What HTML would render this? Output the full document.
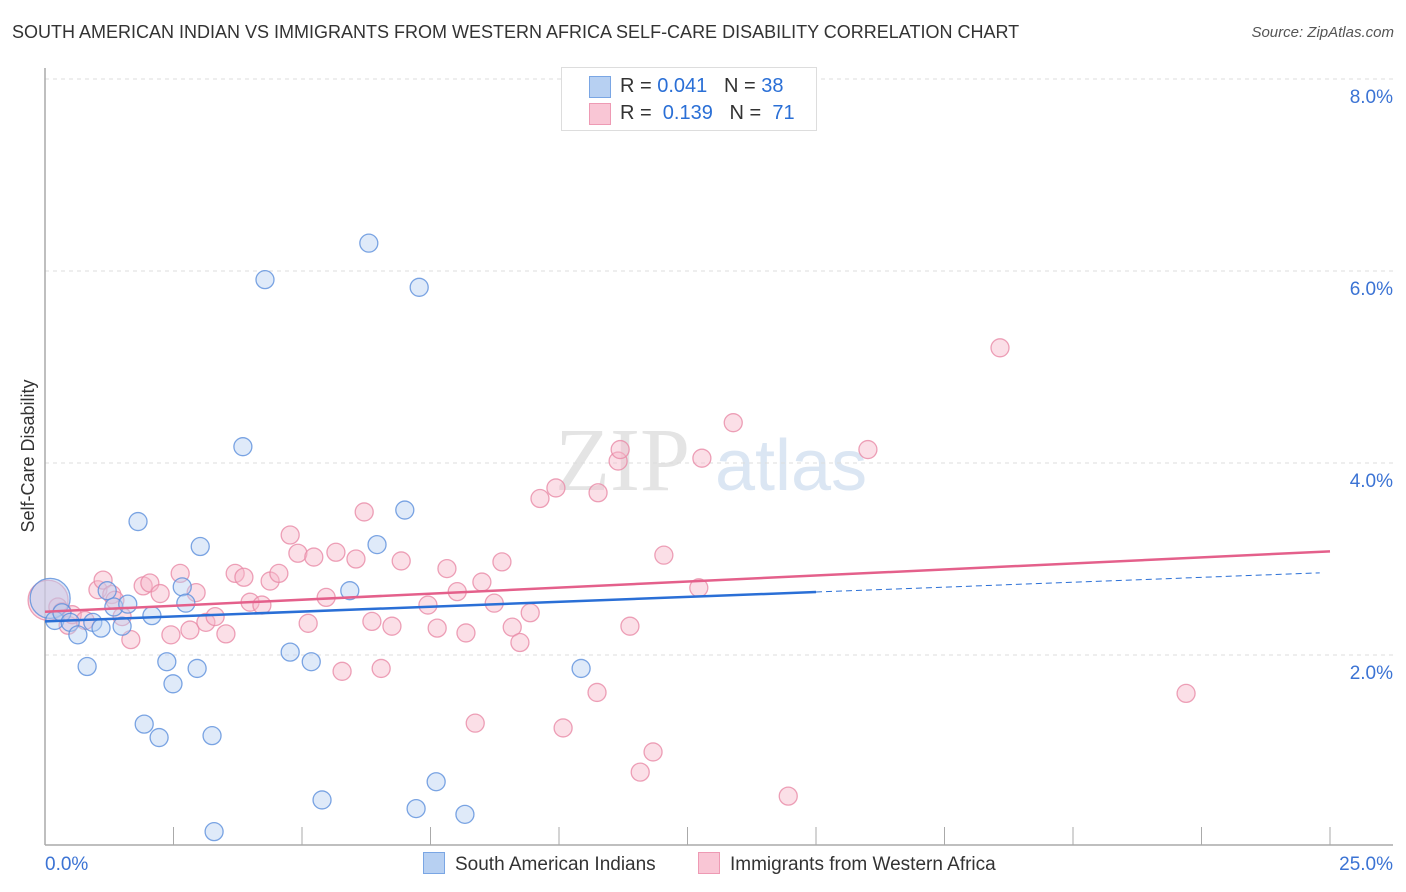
<!DOCTYPE html>
<html><head><meta charset="utf-8"><style>
body{margin:0;background:#fff;font-family:"Liberation Sans",sans-serif}
#wrap{position:relative;width:1406px;height:892px}
.t{position:absolute;white-space:nowrap}
</style></head><body>
<div id="wrap">
<div class="t" style="left:12px;top:22px;font-size:18px;color:#333">SOUTH AMERICAN INDIAN VS IMMIGRANTS FROM WESTERN AFRICA SELF-CARE DISABILITY CORRELATION CHART</div>
<div class="t" style="right:12px;top:24px;font-size:15px;color:#555;font-style:italic">Source: ZipAtlas.com</div>
<svg id="svg" width="1406" height="892" style="position:absolute;left:0;top:0"></svg>
</div>
<script>
const xTicks=[0,25];
const yTicks=[2,4,6,8];
const blueX=[0.10,0.19,0.33,0.49,0.64,0.82,0.93,1.09,1.21,1.34,1.50,1.61,1.81,1.93,2.08,2.22,2.37,2.49,2.67,2.74,2.96,3.02,3.25,3.29,3.85,4.28,4.77,5.18,5.39,5.93,6.30,6.46,7.00,7.22,7.28,7.61,8.17,10.43];
const blueY=[2.59,2.36,2.44,2.34,2.21,1.88,2.34,2.28,2.67,2.50,2.30,2.53,3.39,1.28,2.41,1.14,1.93,1.70,2.71,2.54,1.86,3.13,1.16,0.16,4.17,5.91,2.03,1.93,0.49,2.67,6.29,3.15,3.51,0.40,5.83,0.68,0.34,1.86];
const pinkX=[0.06,0.25,0.33,0.45,0.53,0.78,1.03,1.13,1.30,1.36,1.50,1.67,1.91,2.04,2.24,2.45,2.63,2.82,2.94,3.13,3.31,3.52,3.70,3.87,3.99,4.22,4.38,4.55,4.77,4.92,5.12,5.23,5.47,5.66,5.78,6.05,6.21,6.36,6.54,6.75,6.93,7.45,7.63,7.82,8.02,8.19,8.37,8.50,8.74,8.89,9.09,9.24,9.44,9.63,9.94,10.08,10.74,10.76,11.15,11.19,11.38,11.58,11.83,12.04,12.72,12.78,13.39,14.46,16.01,18.58,22.20];
const pinkY=[2.57,2.50,2.45,2.31,2.42,2.36,2.68,2.78,2.63,2.57,2.40,2.16,2.72,2.75,2.64,2.21,2.85,2.26,2.65,2.34,2.40,2.22,2.85,2.81,2.55,2.52,2.77,2.85,3.25,3.06,2.33,3.02,2.60,3.07,1.83,3.00,3.49,2.35,1.86,2.30,2.98,2.52,2.28,2.90,2.66,2.23,1.29,2.76,2.54,2.97,2.29,2.13,2.44,3.63,3.74,1.24,1.61,3.69,4.02,4.14,2.30,0.78,0.99,3.04,2.70,4.05,4.42,0.53,4.14,5.20,1.60];
const blueLine=[2.35,2.86]; // y at x=0 and x=25
const pinkLine=[2.45,3.08];
const X=v=>45+v*51.4, Y=v=>847-v*96;
const svg=document.getElementById('svg');const NS='http://www.w3.org/2000/svg';
function mk(t,a){const e=document.createElementNS(NS,t);for(const k in a)e.setAttribute(k,a[k]);svg.appendChild(e);return e;}
// watermark
let w=mk('text',{x:555,y:490,'font-size':90,fill:'#e4e4e4','font-family':'Liberation Serif, serif'});w.textContent='ZIP';


w=mk('text',{x:715,y:490,'font-size':72,fill:'#dbe6f3','font-family':'Liberation Sans, sans-serif'});w.textContent='atlas';


yTicks.forEach(v=>{
 let g=mk('line',{x1:45,x2:1393,y1:Y(v),y2:Y(v),stroke:'#ddd','stroke-dasharray':'4 4'});
 
 
 let t=mk('text',{x:1393,y:Y(v)+24,'text-anchor':'end','font-size':19,fill:'#3b73d4'});t.textContent=v.toFixed(1)+'%';
 
 
});
let ax=mk('line',{x1:45,x2:45,y1:68,y2:845,stroke:'#aaa','stroke-width':1.5});


ax=mk('line',{x1:45,x2:1393,y1:845,y2:845,stroke:'#aaa','stroke-width':1.5});


for(let i=1;i<=10;i++){let tk=mk('line',{x1:X(i*2.5),x2:X(i*2.5),y1:827,y2:845,stroke:'#aaa'});
 
 }
xTicks.forEach((v,i)=>{let t=mk('text',{x:i?1393:45,y:870,'text-anchor':i?'end':'start','font-size':19,fill:'#3b73d4'});t.textContent=v.toFixed(1)+'%';
 
 });
let yt=mk('text',{x:34,y:456,'font-size':18,fill:'#333','text-anchor':'middle',transform:'rotate(-90 34 456)'});yt.textContent='Self-Care Disability';


function dots(xs,ys,fill,stroke,name){xs.forEach((x,i)=>{const big=i===0;
 const c=mk('circle',{cx:X(x),cy:Y(ys[i]),r:big?20:9,fill:fill,'fill-opacity':big?0.5:0.45,stroke:stroke,'stroke-width':1.3,'stroke-opacity':0.8});
 
 });}
dots(pinkX,pinkY,'#f7b8ca','#e88aa6','point-western-africa');
dots(blueX,blueY,'#b7d0f2','#5b8fdc','point-south-american-indian');
let l=mk('line',{x1:X(0),y1:Y(blueLine[0]),x2:X(15),y2:Y(blueLine[0]+(blueLine[1]-blueLine[0])*0.6),stroke:'#2a6fd6','stroke-width':2.5});


l=mk('line',{x1:X(15),y1:Y(blueLine[0]+(blueLine[1]-blueLine[0])*0.6),x2:X(24.8),y2:Y(blueLine[0]+(blueLine[1]-blueLine[0])*0.992),stroke:'#2a6fd6','stroke-width':1,'stroke-dasharray':'6 4'});


l=mk('line',{x1:X(0),y1:Y(pinkLine[0]),x2:X(25),y2:Y(pinkLine[1]),stroke:'#e4608b','stroke-width':2.5});


</script>
<div class="t" style="left:561px;top:67px;width:254px;height:62px;border:1px solid #ddd;background:#fff;font-size:20px;color:#333">
 <div style="position:absolute;left:27px;top:8px;width:20px;height:20px;background:#b7d0f2;border:1px solid #7aa6e4"></div>
 <div style="position:absolute;left:58px;top:7px">R = <span style="color:#2a6fd6">0.041</span>&nbsp;&nbsp;&nbsp;N = <span style="color:#2a6fd6">38</span></div>
 <div style="position:absolute;left:27px;top:35px;width:20px;height:20px;background:#f9c6d5;border:1px solid #ee9ab4"></div>
 <div style="position:absolute;left:58px;top:34px">R = &nbsp;<span style="color:#2a6fd6">0.139</span>&nbsp;&nbsp;&nbsp;N = &nbsp;<span style="color:#2a6fd6">71</span></div>
</div>
<div class="t" style="left:423px;top:852px;font-size:19px;color:#333">
 <span style="display:inline-block;width:20px;height:20px;background:#b7d0f2;border:1px solid #7aa6e4;vertical-align:-4px;margin-right:10px"></span>South American Indians</div>
<div class="t" style="left:698px;top:852px;font-size:19px;color:#333">
 <span style="display:inline-block;width:20px;height:20px;background:#f9c6d5;border:1px solid #ee9ab4;vertical-align:-4px;margin-right:10px"></span>Immigrants from Western Africa</div>
</body></html>
